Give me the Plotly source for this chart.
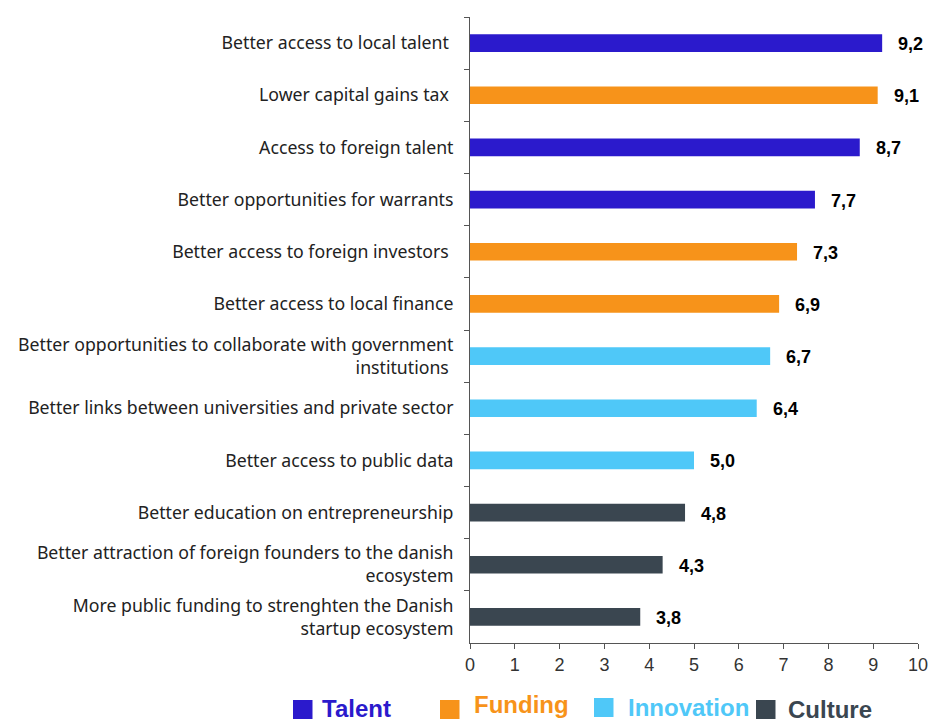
import plotly.graph_objects as go

# Survey results: importance of initiatives for the startup ecosystem
categories = [
    "Better access to local talent ",
    "Lower capital gains tax ",
    "Access to foreign talent",
    "Better opportunities for warrants",
    "Better access to foreign investors ",
    "Better access to local finance",
    "Better opportunities to collaborate with government<br>institutions ",
    "Better links between universities and private sector",
    "Better access to public data",
    "Better education on entrepreneurship",
    "Better attraction of foreign founders to the danish<br>ecosystem",
    "More public funding to strenghten the Danish<br>startup ecosystem",
]
values = [9.2, 9.1, 8.7, 7.7, 7.3, 6.9, 6.7, 6.4, 5.0, 4.8, 4.3, 3.8]
groups = ["Talent", "Funding", "Talent", "Talent", "Funding", "Funding",
          "Innovation", "Innovation", "Innovation", "Culture", "Culture", "Culture"]

group_names = ["Talent", "Funding", "Innovation", "Culture"]
group_colors = {
    "Talent": "#2B1ACC",
    "Funding": "#F7931A",
    "Innovation": "#4FC8F8",
    "Culture": "#3A4650",
}
x_ticks = list(range(0, 11))

W, H = 929, 722
ML, MR, MT, MB = 470, 11, 17, 79
PW, PH = W - ML - MR, H - MT - MB

fig = go.Figure()
fig.add_trace(go.Bar(
    x=values,
    y=categories,
    orientation="h",
    marker=dict(color=[group_colors[g] for g in groups], line=dict(width=0)),
    width=0.34,
    showlegend=False,
    hoverinfo="skip",
))

# value labels to the right of each bar
for cat, val in zip(categories, values):
    fig.add_annotation(
        x=val, y=cat, xref="x", yref="y",
        text=f"{val:.1f}".replace(".", ","),
        showarrow=False, xanchor="left", xshift=14, yshift=-1,
        font=dict(family="Liberation Sans", size=18, color="#000000", weight="bold"),
    )

# custom legend below the chart: coloured square + coloured bold label
legend_layout = {
    # name: (square left px, square top px, text left px, text centre y px)
    "Talent": (293, 700, 320, 708),
    "Funding": (440, 700, 472, 704),
    "Innovation": (594, 698, 626, 707),
    "Culture": (756, 700, 786, 709),
}
for name in group_names:
    sx, sy, tx, ty = legend_layout[name]
    fig.add_shape(
        type="rect", xref="paper", yref="paper",
        x0=(sx - ML) / PW, x1=(sx + 19.5 - ML) / PW,
        y0=(H - MB - sy - 19) / PH, y1=(H - MB - sy) / PH,
        fillcolor=group_colors[name], line=dict(width=0),
    )
    fig.add_annotation(
        x=(tx - ML) / PW, y=(H - MB - ty) / PH,
        xref="paper", yref="paper", xanchor="left", yanchor="middle",
        text=name, showarrow=False,
        font=dict(family="Liberation Sans", size=24, color=group_colors[name], weight="bold"),
    )

fig.update_layout(
    width=W, height=H,
    margin=dict(l=ML, r=MR, t=MT, b=MB, autoexpand=False),
    plot_bgcolor="white", paper_bgcolor="white",
)
fig.update_xaxes(
    range=[0, 10], tickvals=x_ticks, ticktext=[str(t) for t in x_ticks],
    showgrid=False, zeroline=False, automargin=False,
    showline=True, linecolor="#555555", linewidth=1,
    ticks="outside", ticklen=5, tickcolor="#555555",
    tickfont=dict(family="Liberation Sans", size=18, color="#333333"),
)
fig.update_yaxes(
    autorange="reversed", categoryorder="array", categoryarray=categories,
    showgrid=False, zeroline=False, automargin=False,
    showline=True, linecolor="#555555", linewidth=1,
    ticks="outside", ticklen=5, tickcolor="#555555", tickson="boundaries",
    ticklabelstandoff=12,
    tickfont=dict(family="Noto Sans", size=17.7, color="#222222"),
)

fig.write_html("out.html")
